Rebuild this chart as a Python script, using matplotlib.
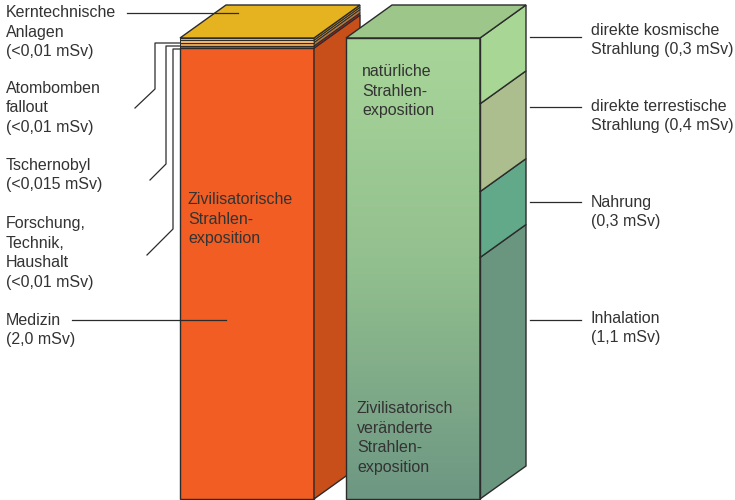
import numpy as np
import matplotlib.pyplot as plt
from matplotlib.colors import LinearSegmentedColormap

plt.rcParams['font.family'] = ['Liberation Sans', 'DejaVu Sans']

# left bar: bottom to top
orange_labels = ['Medizin\n(2,0 mSv)', 'Forschung,\nTechnik,\nHaushalt\n(<0,01 mSv)',
                 'Tschernobyl\n(<0,015 mSv)', 'Atombomben\nfallout\n(<0,01 mSv)',
                 'Kerntechnische\nAnlagen\n(<0,01 mSv)']
orange_values = [2.0, 0.01, 0.015, 0.01, 0.01]
orange_front = ['#f15d22', '#d8261e', '#dc9f55', '#f3b56a', '#e3b022']
orange_side = ['#c84f1a', '#a81e18', '#b07a3e', '#c68e4e', '#b98a1c']

# right bar: bottom to top
green_labels = ['Inhalation\n(1,1 mSv)', 'Nahrung\n(0,3 mSv)',
                'direkte terrestische\nStrahlung (0,4 mSv)',
                'direkte kosmische\nStrahlung (0,3 mSv)']
green_values = [1.1, 0.3, 0.4, 0.3]
green_side = ['#6a957f', '#62a98a', '#acbe8d', '#a8d795']

bar_text = ['Zivilisatorische\nStrahlen-\nexposition', 'natürliche\nStrahlen-\nexposition',
            'Zivilisatorisch\nveränderte\nStrahlen-\nexposition']

edge = '#2b2b2b'
txt = '#333333'
dx = 46            # depth in x (px)
dy = 33 / 461.0    # depth in y (share of bar height)

fig = plt.figure(figsize=(7.35, 5.0), dpi=100)
ax = fig.add_axes([0, 0, 1, 1])
ax.set_xlim(0, 735)
ax.set_ylim(-1 / 461.0, 499 / 461.0)
ax.axis('off')

def box(x0, x1, lo, hi, cfront, cside, lw, z, front=True):
    if front:
        ax.fill([x0, x1, x1, x0], [lo, lo, hi, hi], fc=cfront, ec=edge, lw=lw, zorder=z)
    ax.fill([x1, x1 + dx, x1 + dx, x1], [lo, lo + dy, hi + dy, hi],
            fc=cside, ec=edge, lw=lw, zorder=z)

# left bar, each bar scaled to its own total
x0, x1 = 180, 314
tot = sum(orange_values)
cum = np.concatenate([[0], np.cumsum(orange_values)]) / tot
for i in range(len(orange_values)):
    box(x0, x1, cum[i], cum[i + 1], orange_front[i], orange_side[i],
        1.0 if i == 0 else 0.7, 1)
top = cum[-1]
ax.fill([x0, x0 + dx, x1 + dx, x1], [top, top + dy, top + dy, top],
        fc='#e5b320', ec=edge, lw=1.0, zorder=1)

# right bar
g0, g1 = 346, 480
tot = sum(green_values)
cum = np.concatenate([[0], np.cumsum(green_values)]) / tot
cmap = LinearSegmentedColormap.from_list('g', ['#6e9783', '#92bf8e', '#a8d699'])
grad = np.linspace(1, 0, 200).reshape(-1, 1)
ax.imshow(grad, cmap=cmap, extent=(g0, g1, 0, 1), origin='upper', aspect='auto', zorder=3)
ax.fill([g0, g1, g1, g0], [0, 0, 1, 1], fc='none', ec=edge, lw=1.0, zorder=4)
for i in range(len(green_values)):
    box(g0, g1, cum[i], cum[i + 1], None, green_side[i], 1.0, 3, front=False)
ax.fill([g0, g0 + dx, g1 + dx, g1], [1, 1 + dy, 1 + dy, 1],
        fc='#9cc68a', ec=edge, lw=1.0, zorder=3)
ax.set_xlim(0, 735)
ax.set_ylim(-1 / 461.0, 499 / 461.0)

# overlay in pixel coords for labels and leader lines
ov = fig.add_axes([0, 0, 1, 1], facecolor='none')
ov.set_xlim(0, 735)
ov.set_ylim(500, 0)
ov.axis('off')
kw = dict(color=txt, fontsize=11.5, linespacing=1.37, va='center', ha='left')

left_y = [330, 253, 175, 108, 32]
for lab, y in zip(orange_labels, left_y):
    ov.text(6, y, lab, **kw)
right_y = [328, 212, 116, 40]
for lab, y in zip(green_labels, right_y):
    ov.text(591, y, lab, **kw)
ov.text(188, 219, bar_text[0], **kw)
ov.text(362, 91, bar_text[1], **kw)
ov.text(357, 438, bar_text[2], **kw)

lk = dict(color='#2b2b2b', lw=0.9, zorder=6)
ov.plot([127, 238], [13, 13], **lk)
ov.plot([135, 155, 155, 180], [108, 89, 43, 43], **lk)
ov.plot([150, 166, 166, 180], [180, 164, 46, 46], **lk)
ov.plot([147, 173, 173, 180], [255, 229, 49, 49], **lk)
ov.plot([72, 226], [320, 320], **lk)
for y in [37, 107, 202, 320]:
    ov.plot([530, 581], [y, y], **lk)

plt.savefig('out.png', dpi=100)
